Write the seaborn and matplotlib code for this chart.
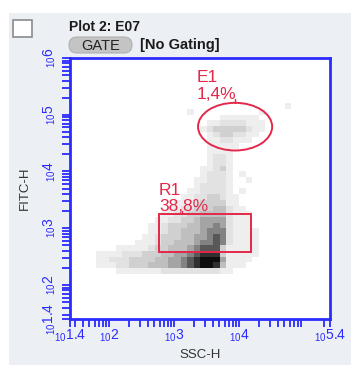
import numpy as np
import pandas as pd
import matplotlib
matplotlib.use("Agg")
import matplotlib.pyplot as plt
import seaborn as sns
from matplotlib.colors import ListedColormap
from matplotlib.patches import Rectangle, Ellipse, FancyBboxPatch
from matplotlib.ticker import FixedLocator, NullFormatter

# density: 0.1 decade cells, x from 10^1.8, y from 10^5.3 down
x_start = 1.8
y_top = 5.3
cell = 0.1
density_rows = [
    "00000000000000000000000000000000",
    "00000000000000000000000000000100",
    "00000000000000100000000001000000",
    "00000000000000000001111110000000",
    "00000000000000000112222111000000",
    "00000000000000001233333211000000",
    "00000000000000000123322110000000",
    "00000000000000000112211100000000",
    "00000000000000000111110000000000",
    "00000000000000000111100000000000",
    "00000000000000000122100000000000",
    "00000000000000000122100000000000",
    "00000000000000001123100000000000",
    "00000000000000001222101000000000",
    "00000000000000011222100100000000",
    "00000000000000012222100000000000",
    "00000000000000112222101000000000",
    "00000000000001122332110000000000",
    "00000000000011123333110000000000",
    "00000000000112233344211000000000",
    "00000000001122334444211100000000",
    "00000000011223345555211100000000",
    "00000000112333445565211100000000",
    "00000000112334445666211110000000",
    "00000001123334455676211110000000",
    "00000011123344456676211110000000",
    "00011111233444567773111110000000",
    "11112223334455678883111110000000",
    "11222333344556789995111100000000",
    "11122333444556789984111000000000",
    "00011111112222222221100000000000",
]
gray_levels = ["#ffffff", "#eeeeee", "#e2e2e2", "#d0d0d0", "#bfbfbf",
               "#a4a4a4", "#828282", "#585858", "#303030", "#0e0e0e"]

# gates in log10 units
e1_center = (3.94, 4.79)
e1_size = (1.14, 0.84)
r1_x = (2.77, 4.18)
r1_y = (2.58, 3.25)
e1_label = ("E1", "1,4%")
r1_label = ("R1", "38,8%")

x_range = (1.4, 5.4)
y_range = (1.4, 6.0)
x_major = [1.4, 2, 3, 4, 5.4]
y_major = [1.4, 2, 3, 4, 5, 6]

recs = []
for r, row in enumerate(density_rows):
    for c, ch in enumerate(row):
        if ch != "0":
            recs.append({"ssc": 10 ** (x_start + cell * (c + 0.5)),
                         "fitc": 10 ** (y_top - cell * (r + 0.5)),
                         "level": int(ch)})
df = pd.DataFrame(recs)

sns.set_theme(style="white")
plt.rcParams["font.family"] = ["Liberation Sans", "DejaVu Sans"]
plt.rcParams["mathtext.fontset"] = "custom"
plt.rcParams["mathtext.rm"] = "Liberation Sans"

W, H = 354, 365
blue = "#2b2bff"
red = "#e3284a"
fig = plt.figure(figsize=(W / 100, H / 100), dpi=100, facecolor="white")
fig.patches.append(Rectangle((9, 0), 342, H - 13, transform=None,
                             facecolor="#ecf0f4", edgecolor="none", zorder=-10))

ax = fig.add_axes([70 / W, 1 - 319 / H, 260 / W, 261 / H])
ax.set_facecolor("white")

sns.histplot(data=df, x="ssc", y="fitc", weights="level",
             log_scale=(True, True), binwidth=cell,
             binrange=((x_start, 5.0), (2.2, y_top)),
             cmap=ListedColormap(gray_levels), vmin=-0.5, vmax=9.5, ax=ax)

ax.set_xlim(10 ** x_range[0], 10 ** x_range[1])
ax.set_ylim(10 ** y_range[0], 10 ** y_range[1])


def minor_ticks(lo, hi):
    out = []
    for n in range(1, 7):
        for k in range(2, 10):
            v = k * 10 ** n
            if 10 ** lo < v < 10 ** hi:
                out.append(v)
    return out


ax.xaxis.set_major_locator(FixedLocator([10 ** v for v in x_major]))
ax.yaxis.set_major_locator(FixedLocator([10 ** v for v in y_major]))
ax.xaxis.set_minor_locator(FixedLocator(minor_ticks(*x_range)))
ax.yaxis.set_minor_locator(FixedLocator(minor_ticks(*y_range)))
ax.xaxis.set_minor_formatter(NullFormatter())
ax.yaxis.set_minor_formatter(NullFormatter())
ax.set_xticklabels([r"$_{10}$" + f"{v:g}" for v in x_major])
ax.set_yticklabels([r"$_{10}$" + f"{v:g}" for v in y_major],
                   rotation=90, va="center")
ax.tick_params(which="both", direction="out", length=5.5, width=1.3,
               color=blue, labelcolor=blue, labelsize=10,
               bottom=True, left=True, top=False, right=False)
ax.tick_params(axis="x", pad=1)
ax.tick_params(axis="y", pad=3)
for s in ax.spines.values():
    s.set_color(blue)
    s.set_linewidth(2)

ax.set_xlabel("SSC-H", fontsize=9.5, color="#333333", labelpad=3)
ax.set_ylabel("FITC-H", fontsize=9.5, color="#333333", labelpad=8)

# gates drawn in log10 space
logt = ax.transLimits + ax.transAxes
ax.add_patch(Ellipse(e1_center, e1_size[0], e1_size[1], transform=logt,
                     fill=False, edgecolor=red, linewidth=1.4))
ax.add_patch(Rectangle((r1_x[0], r1_y[0]), r1_x[1] - r1_x[0], r1_y[1] - r1_y[0],
                       transform=logt, fill=False, edgecolor=red, linewidth=1.4))
ax.text(3.35, 5.58, e1_label[0], transform=logt, color=red, fontsize=12.5)
ax.text(3.35, 5.28, e1_label[1], transform=logt, color=red, fontsize=12.5)
ax.plot([3.94, 3.94], [5.21, 5.28], transform=logt, color=red, lw=1)
ax.text(2.77, 3.59, r1_label[0], transform=logt, color=red, fontsize=12.5)
ax.text(2.77, 3.305, r1_label[1], transform=logt, color=red, fontsize=12.5)
ax.plot([3.12, 3.12], [3.25, 3.30], transform=logt, color=red, lw=1)

# header
fig.patches.append(Rectangle((13, H - 37), 19, 17, transform=None,
                             facecolor="white", edgecolor="#8a8a8a", lw=1.2))
fig.text(69 / W, 1 - 31 / H, "Plot 2: E07", fontsize=10, weight="bold",
         color="#1a1a1a")
fig.patches.append(FancyBboxPatch((69, H - 53), 63, 16, transform=None,
                                  boxstyle="round,pad=0,rounding_size=8",
                                  facecolor="#c4c4c4", edgecolor="#b0b0b0", lw=0.8))
fig.text(101 / W, 1 - 45.5 / H, "GATE", fontsize=10.5, color="#222222",
         ha="center", va="center")
fig.text(140 / W, 1 - 45.5 / H, "[No Gating]", fontsize=10.5, weight="bold",
         color="#1a1a1a", va="center")

fig.savefig("out.png", dpi=100)
